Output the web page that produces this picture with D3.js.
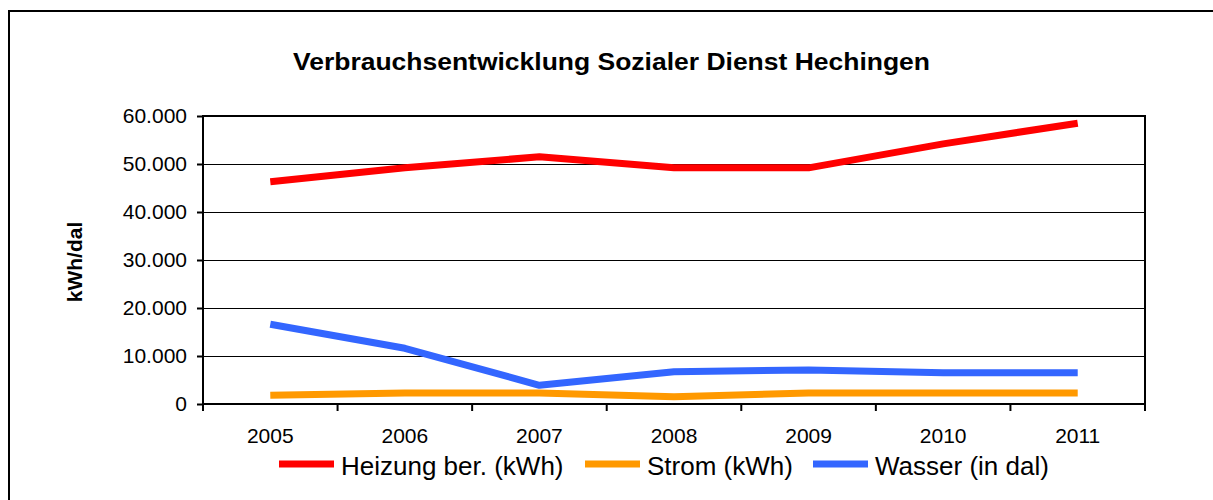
<!DOCTYPE html>
<html>
<head>
<meta charset="utf-8">
<script src="https://cdn.jsdelivr.net/npm/d3@7"></script>
<style>
  body { margin: 0; background: #fff; }
  svg { display: block; font-family: "Liberation Sans", Arial, sans-serif; }
</style>
</head>
<body>
<div id="chart"></div>
<script>
// data
var years   = ["2005", "2006", "2007", "2008", "2009", "2010", "2011"];
var heizung = [46300, 49200, 51500, 49200, 49200, 54200, 58500];
var strom   = [1800, 2300, 2300, 1500, 2300, 2300, 2300];
var wasser  = [16600, 11600, 3900, 6700, 7100, 6500, 6500];
var seriesNames  = ["Heizung ber. (kWh)", "Strom (kWh)", "Wasser (in dal)"];
var seriesColors = ["#FF0000", "#FF9900", "#3366FF"];
var yTicks = [0, 10000, 20000, 30000, 40000, 50000, 60000];

var W = 1213, H = 500;
// plot area (note: "top" is taken by window.top, so use own names)
var plotLeft = 203, plotRight = 1145, plotTop = 116, plotBottom = 404;

var svg = d3.select("#chart").append("svg").attr("width", W).attr("height", H);

// outer frame (runs off the right/bottom edge like in the picture)
svg.append("rect").attr("x", 9).attr("y", 11).attr("width", 1300).attr("height", 600)
   .attr("fill", "none").attr("stroke", "#000").attr("stroke-width", 2);

var de = d3.formatLocale({decimal: ",", thousands: ".", grouping: [3], currency: ["", "€"]});

var xScale = d3.scaleBand().domain(years).range([plotLeft, plotRight]).padding(0);
var yScale = d3.scaleLinear().domain([0, 60000]).range([plotBottom, plotTop]);

// gridlines
svg.append("g").selectAll("line").data(yTicks.slice(1, -1)).enter().append("line")
   .attr("x1", plotLeft).attr("x2", plotRight)
   .attr("y1", function(d) { return Math.round(yScale(d)) + 0.5; })
   .attr("y2", function(d) { return Math.round(yScale(d)) + 0.5; })
   .attr("stroke", "#000").attr("stroke-width", 1);

// y axis
var yAxis = d3.axisLeft(yScale).tickValues(yTicks).tickFormat(de.format(",")).tickSize(6).tickPadding(10);
var gy = svg.append("g").attr("transform", "translate(" + plotLeft + ",0)").call(yAxis);
gy.select(".domain").remove();
gy.selectAll("line").attr("stroke", "#000").attr("stroke-width", 2);
gy.selectAll("text").attr("font-size", 21).attr("fill", "#000")
  .attr("font-family", "Liberation Sans, Arial, sans-serif");

// x axis: labels at band centres, ticks at band edges
var xAxis = d3.axisBottom(xScale).tickSize(0).tickPadding(0);
var gx = svg.append("g").attr("transform", "translate(0," + plotBottom + ")").call(xAxis);
gx.select(".domain").remove();
gx.selectAll("text").attr("font-size", 21).attr("fill", "#000").attr("dy", null).attr("y", 39)
  .attr("font-family", "Liberation Sans, Arial, sans-serif");
var edges = years.map(function(d) { return xScale(d); }).concat([plotRight]);
svg.append("g").selectAll("line").data(edges).enter().append("line")
   .attr("x1", function(d) { return d; }).attr("x2", function(d) { return d; })
   .attr("y1", plotBottom).attr("y2", plotBottom + 7)
   .attr("stroke", "#000").attr("stroke-width", 2);

// plot border
svg.append("rect").attr("x", plotLeft).attr("y", plotTop)
   .attr("width", plotRight - plotLeft).attr("height", plotBottom - plotTop)
   .attr("fill", "none").attr("stroke", "#000").attr("stroke-width", 2);

// lines
var line = d3.line()
    .x(function(d, i) { return xScale(years[i]) + xScale.bandwidth() / 2; })
    .y(function(d) { return yScale(d); });

var allSeries = [heizung, strom, wasser];
svg.append("g").selectAll("path").data(allSeries).enter().append("path")
   .attr("d", line)
   .attr("fill", "none")
   .attr("stroke", function(d, i) { return seriesColors[i]; })
   .attr("stroke-width", 7)
   .attr("stroke-linejoin", "round");

// title
svg.append("text").attr("x", 611.5).attr("y", 70).attr("text-anchor", "middle")
   .attr("font-size", 23).attr("font-weight", "bold")
   .attr("textLength", 637).attr("lengthAdjust", "spacingAndGlyphs")
   .text("Verbrauchsentwicklung Sozialer Dienst Hechingen");

// y axis title
svg.append("text").attr("transform", "translate(82,262) rotate(-90)")
   .attr("text-anchor", "middle").attr("font-size", 21).attr("font-weight", "bold")
   .text("kWh/dal");

// legend
var legX = [279, 585, 813];
var leg = svg.append("g").selectAll("g").data(seriesNames).enter().append("g")
   .attr("transform", function(d, i) { return "translate(" + legX[i] + ",464)"; });
leg.append("line").attr("x1", 0).attr("x2", 55).attr("y1", 0).attr("y2", 0)
   .attr("stroke", function(d, i) { return seriesColors[i]; }).attr("stroke-width", 7);
leg.append("text").attr("x", 62).attr("y", 11).attr("font-size", 26)
   .text(function(d) { return d; });
</script>
</body>
</html>
